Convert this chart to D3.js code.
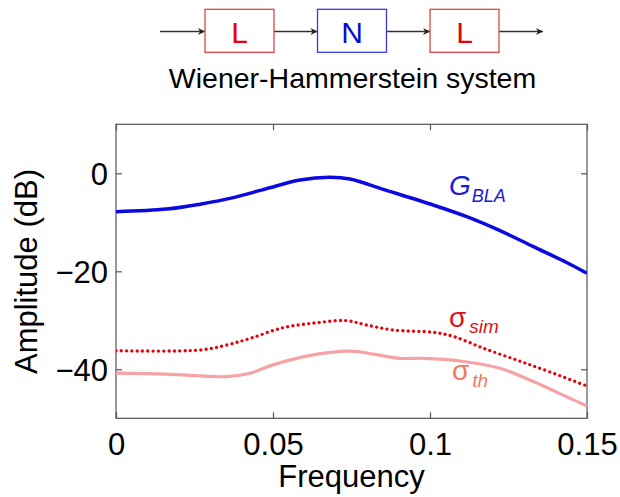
<!DOCTYPE html>
<html>
<head>
<meta charset="utf-8">
<script src="https://cdn.jsdelivr.net/npm/d3@7/dist/d3.min.js"></script>
<style>
  html, body { margin: 0; padding: 0; background: #fff; }
  svg { display: block; font-family: "Liberation Sans", Arial, sans-serif; }
</style>
</head>
<body>
<svg id="chart" width="620" height="497"></svg>
<script>
// ---- data ----
const gblaFreq = [0, 0.0161, 0.0268, 0.0374, 0.048, 0.0586, 0.068, 0.0745, 0.0851, 0.101, 0.1117, 0.1223, 0.1329, 0.1435, 0.15];
const gblaAmp  = [-7.84, -7.3, -6.3, -4.97, -3.13, -1.37, -0.82, -1.16, -3.27, -6.47, -8.85, -11.7, -14.97, -18.2, -20.4];

const simFreq = [0, 0.0268, 0.0352, 0.0427, 0.0533, 0.0639, 0.0735, 0.0798, 0.0883, 0.101, 0.1075, 0.117, 0.1276, 0.138, 0.15];
const simAmp  = [-36.2, -36.06, -35.04, -33.7, -31.5, -30.5, -30.08, -30.96, -31.98, -32.45, -33.3, -35.7, -38.1, -40.5, -43.4];

const thFreq = [0, 0.0161, 0.0352, 0.0427, 0.05, 0.0607, 0.0745, 0.082, 0.0904, 0.0979, 0.1096, 0.1223, 0.1329, 0.1435, 0.15];
const thAmp  = [-40.8, -41.0, -41.5, -40.8, -39.1, -37.3, -36.3, -36.9, -37.76, -37.76, -38.3, -39.8, -42.5, -45.6, -47.5];

const xTicks = [0, 0.05, 0.1, 0.15];
const xTickLabels = ["0", "0.05", "0.1", "0.15"];
const yTicks = [0, -20, -40];
const yTickLabels = ["0", "\u221220", "\u221240"];

const blocks = ["L", "N", "L"];

// ---- layout ----
const svg = d3.select("#chart");
const L = 116, R = 587, T = 124.3, B = 418.3;
const x = d3.scaleLinear().domain([0, 0.15]).range([L, R]);
const y = d3.scaleLinear().domain([-50, 10]).range([B, T]);

const axisColor = "#555";
const tickFont = 31;

// frame
svg.append("rect").attr("x", L).attr("y", T).attr("width", R - L).attr("height", B - T)
  .attr("fill", "none").attr("stroke", axisColor).attr("stroke-width", 1.2);

// axes with inside ticks
const xAxisB = d3.axisBottom(x).tickValues(xTicks).tickSize(-6).tickFormat((d, i) => xTickLabels[i]).tickPadding(14);
const gxb = svg.append("g").attr("transform", `translate(0,${B})`).call(xAxisB);
const xAxisT = d3.axisTop(x).tickValues(xTicks).tickSize(-6).tickFormat("");
const gxt = svg.append("g").attr("transform", `translate(0,${T})`).call(xAxisT);
const yAxisL = d3.axisLeft(y).tickValues(yTicks).tickSize(-6).tickFormat((d, i) => yTickLabels[i]).tickPadding(8);
const gyl = svg.append("g").attr("transform", `translate(${L},0)`).call(yAxisL);
const yAxisR = d3.axisRight(y).tickValues(yTicks).tickSize(-6).tickFormat("");
const gyr = svg.append("g").attr("transform", `translate(${R},0)`).call(yAxisR);

[gxb, gxt, gyl, gyr].forEach(g => {
  g.select(".domain").remove();
  g.selectAll(".tick line").attr("stroke", axisColor).attr("stroke-width", 1.2);
  g.selectAll("text").attr("font-family", "'Liberation Sans', Arial, sans-serif")
    .attr("font-size", tickFont).attr("fill", "#000");
});
gxb.selectAll("text").attr("dy", null).attr("y", 37);
gyl.selectAll("text").attr("dy", "0.36em");

// axis titles
svg.append("text").attr("x", (L + R) / 2).attr("y", 487).attr("text-anchor", "middle")
  .attr("font-size", 31).attr("fill", "#000").text("Frequency");
svg.append("text").attr("transform", `translate(37,${271.5}) rotate(-90)`).attr("text-anchor", "middle")
  .attr("font-size", 31).attr("fill", "#000").text("Amplitude (dB)");

// clip
svg.append("clipPath").attr("id", "clip").append("rect")
  .attr("x", L).attr("y", T).attr("width", R - L).attr("height", B - T);

const line = d3.line().x(d => x(d[0])).y(d => y(d[1])).curve(d3.curveCatmullRom.alpha(0.5));
const plot = svg.append("g").attr("clip-path", "url(#clip)");

plot.append("path").datum(d3.zip(thFreq, thAmp)).attr("d", line)
  .attr("fill", "none").attr("stroke", "#f5a3a6").attr("stroke-width", 3.2);
plot.append("path").datum(d3.zip(simFreq, simAmp)).attr("d", line)
  .attr("fill", "none").attr("stroke", "#e8000b").attr("stroke-width", 3.4)
  .attr("stroke-linecap", "round").attr("stroke-dasharray", "0 5.3");
plot.append("path").datum(d3.zip(gblaFreq, gblaAmp)).attr("d", line)
  .attr("fill", "none").attr("stroke", "#0a0ae0").attr("stroke-width", 3.5);

// curve labels
const gl = svg.append("text").attr("x", 449).attr("y", 195).attr("fill", "#1a1ad8")
  .attr("font-style", "italic").attr("font-size", 28);
gl.append("tspan").text("G");
gl.append("tspan").attr("dy", 7).attr("dx", 1).attr("font-size", 18).text("BLA");

const sl = svg.append("text").attr("x", 449).attr("y", 327).attr("fill", "#e0101a").attr("font-size", 28);
sl.append("tspan").text("\u03c3");
sl.append("tspan").attr("dy", 6).attr("dx", 3).attr("font-size", 19).attr("font-style", "italic").text("sim");

const tl = svg.append("text").attr("x", 452).attr("y", 380).attr("fill", "#f07a5a").attr("font-size", 28);
tl.append("tspan").text("\u03c3");
tl.append("tspan").attr("dy", 7).attr("dx", 3).attr("font-size", 19).attr("font-style", "italic").text("th");

// ---- block diagram ----
const defs = svg.append("defs");
defs.append("marker").attr("id", "arr").attr("viewBox", "0 0 10 10").attr("refX", 10).attr("refY", 5)
  .attr("markerWidth", 11).attr("markerHeight", 7).attr("markerUnits", "userSpaceOnUse").attr("orient", "auto")
  .append("path").attr("d", "M0,0 L10,5 L0,10 L3,5 Z").attr("fill", "#222");

const boxX = d3.scaleBand().domain(d3.range(blocks.length)).range([205, 499]).paddingInner(0.387);
const boxTop = 9.3, boxH = 43, midY = 31.5;
const boxColors = ["#e04545", "#3a3ae0", "#e04545"];
const textColors = ["#e8000b", "#0a0ad0", "#e8000b"];

const diag = svg.append("g");
// arrows
const arrowSegs = [[160, boxX(0)]];
for (let i = 0; i < blocks.length - 1; i++) arrowSegs.push([boxX(i) + boxX.bandwidth(), boxX(i + 1)]);
arrowSegs.push([boxX(blocks.length - 1) + boxX.bandwidth(), 543]);
diag.selectAll("line.arrow").data(arrowSegs).enter().append("line")
  .attr("x1", d => d[0]).attr("x2", d => d[1]).attr("y1", midY).attr("y2", midY)
  .attr("stroke", "#333").attr("stroke-width", 1.3).attr("marker-end", "url(#arr)");

diag.selectAll("rect.blk").data(blocks).enter().append("rect")
  .attr("x", (d, i) => boxX(i)).attr("y", boxTop).attr("width", boxX.bandwidth()).attr("height", boxH)
  .attr("fill", "#fff").attr("stroke", (d, i) => boxColors[i]).attr("stroke-width", 1.3);
diag.selectAll("text.blk").data(blocks).enter().append("text")
  .attr("x", (d, i) => boxX(i) + boxX.bandwidth() / 2).attr("y", midY + 11)
  .attr("text-anchor", "middle").attr("font-size", 30).attr("fill", (d, i) => textColors[i]).text(d => d);

svg.append("text").attr("x", 352.5).attr("y", 88).attr("text-anchor", "middle")
  .attr("font-size", 28.5).attr("fill", "#000").text("Wiener-Hammerstein system");
</script>
</body>
</html>
